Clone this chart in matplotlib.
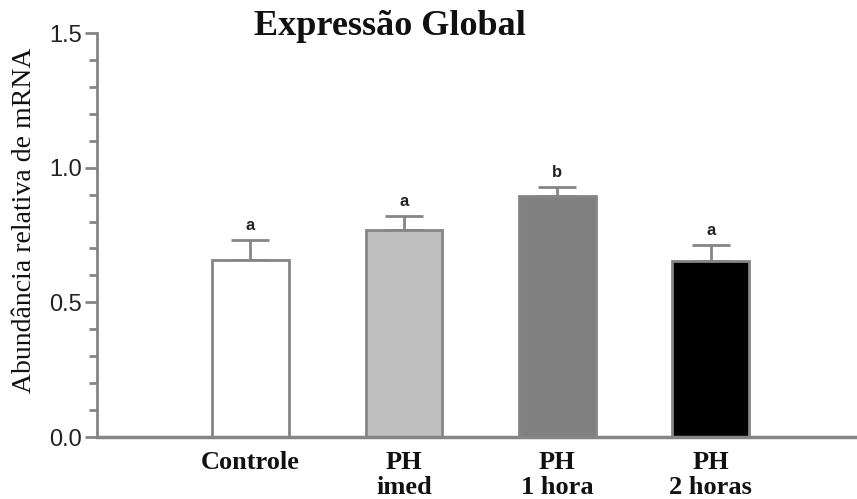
import matplotlib
matplotlib.use('Agg')
import matplotlib.pyplot as plt
from matplotlib.ticker import MultipleLocator

# dados
grupos = ['Controle', 'PH\nimed', 'PH\n1 hora', 'PH\n2 horas']
medias = [0.658, 0.769, 0.894, 0.653]
erros = [0.074, 0.051, 0.033, 0.061]
letras = ['a', 'a', 'b', 'a']
cores = ['white', '#c0c0c0', '#808080', 'black']

cinza = '#858585'

fig = plt.figure(figsize=(8.57, 4.99), dpi=100)
ax = fig.add_axes([97 / 857, 62 / 499, 758 / 857, 404 / 499])

pos = list(range(len(grupos)))
ax.bar(pos, medias, width=0.5, color=cores, edgecolor=cinza, linewidth=2, zorder=2)
ax.errorbar(pos, medias, yerr=[[0] * len(erros), erros], fmt='none',
            ecolor=cinza, elinewidth=2, capsize=13.7, capthick=2, zorder=1)

# letras de significancia
for x, m, e, l in zip(pos, medias, erros, letras):
    ax.annotate(l, (x, m + e), xytext=(0, 5), textcoords='offset points',
                ha='center', va='bottom', fontsize=12, fontweight='bold',
                color='#222222', family='Liberation Sans')

ax.set_xlim(-1, 3.94)
ax.set_ylim(0, 1.5)
ax.yaxis.set_major_locator(MultipleLocator(0.5))
ax.yaxis.set_minor_locator(MultipleLocator(0.1))
ax.set_yticks([0, 0.5, 1.0, 1.5])
ax.set_yticklabels(['0.0', '0.5', '1.0', '1.5'], family='Liberation Sans',
                   fontsize=17, color='#222222')
ax.tick_params(axis='y', which='major', length=9, width=2, color=cinza, pad=2)
ax.tick_params(axis='y', which='minor', length=6, width=2, color=cinza)

ax.set_xticks(pos)
ax.set_xticklabels(grupos, family='Liberation Serif', fontweight='bold',
                   fontsize=19, linespacing=1.1, color='#111111')
ax.tick_params(axis='x', length=0, pad=10)

for s in ['top', 'right']:
    ax.spines[s].set_visible(False)
ax.spines['left'].set_color(cinza)
ax.spines['left'].set_linewidth(2)
ax.spines['bottom'].set_color(cinza)
ax.spines['bottom'].set_linewidth(2.5)

fig.text(390 / 857, 1 - 35 / 499, 'Expressão Global', ha='center', va='baseline',
         family='Liberation Serif', fontweight='bold', fontsize=26, color='#111111')
fig.text(25 / 857, 1 - 220 / 499, 'Abundância relativa de mRNA', rotation=90,
         ha='center', va='center', family='Liberation Serif', fontsize=20,
         color='#111111')

plt.savefig('out.png', dpi=100)
